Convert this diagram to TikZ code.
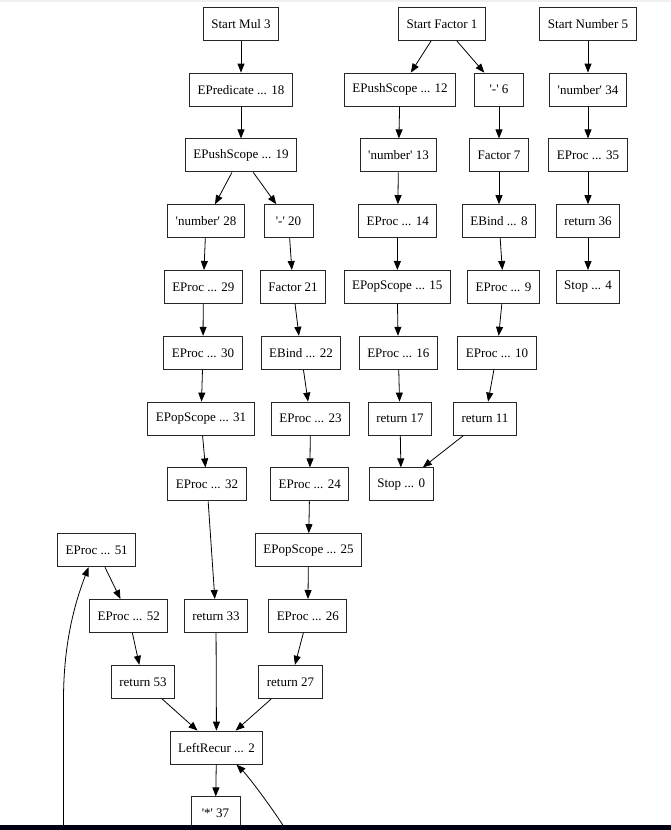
\documentclass[tikz,border=0pt]{standalone}
\usepackage{fontspec}
\setmainfont{Liberation Serif}
\usetikzlibrary{arrows.meta}
\newcommand{\sq}{\textquotesingle}
\begin{document}
\begin{tikzpicture}[x=1pt,y=-1pt,
  box/.style={draw=black!85, line width=1pt, minimum height=33pt, minimum width=49pt,
    inner xsep=8pt, inner ysep=0pt, font=\fontsize{13}{15}\selectfont, anchor=center},
  edge/.style={draw=black, line width=0.8pt, -{Triangle[length=9pt,width=7pt]}}]
\useasboundingbox (0,0) rectangle (671,830);
\fill[white] (0,0) rectangle (671,830);
\fill[black!6] (0,0) rectangle (671,1.5);
\def\rA{23.8}\def\rB{89.6}\def\rC{155.4}\def\rD{221.2}\def\rE{287}\def\rF{352.8}
\def\rG{418.6}\def\rH{484.4}\def\rI{550.2}\def\rJ{616}\def\rK{681.8}\def\rL{747.6}\def\rM{813.4}
% left group
\node[box] (sm3)  at (241,\rA) {Start Mul 3};
\node[box] (ep18) at (241,\rB) {EPredicate ... 18};
\node[box] (ps19) at (241,\rC) {EPushScope ... 19};
\node[box] (n28)  at (206,\rD) {\sq number\sq{} 28};
\node[box] (m20)  at (288.5,\rD) {\sq-\sq{} 20};
\node[box] (p29)  at (203.3,\rE) {EProc ... 29};
\node[box] (f21)  at (293,\rE) {Factor 21};
\node[box] (p30)  at (203,\rF) {EProc ... 30};
\node[box] (b22)  at (301,\rF) {EBind ... 22};
\node[box] (pop31) at (201,\rG) {EPopScope ... 31};
\node[box] (p23)  at (310.5,\rG) {EProc ... 23};
\node[box] (p32)  at (207,\rH) {EProc ... 32};
\node[box] (p24)  at (309.7,\rH) {EProc ... 24};
\node[box] (pop25) at (308.5,\rI) {EPopScope ... 25};
\node[box] (p51)  at (96.7,\rI) {EProc ... 51};
\node[box] (p52)  at (128.7,\rJ) {EProc ... 52};
\node[box] (r33)  at (216,\rJ) {return 33};
\node[box] (p26)  at (307.8,\rJ) {EProc ... 26};
\node[box] (r53)  at (143,\rK) {return 53};
\node[box] (r27)  at (290.5,\rK) {return 27};
\node[box] (lr2)  at (216.5,\rL) {LeftRecur ... 2};
\node[box] (s37)  at (215.5,\rM) {\sq*\sq{} 37};
% middle group
\node[box] (sf1)  at (442,\rA) {Start Factor 1};
\node[box] (ps12) at (400,\rB) {EPushScope ... 12};
\node[box] (m6)   at (499,\rB) {\sq-\sq{} 6};
\node[box] (n13)  at (398.5,\rC) {\sq number\sq{} 13};
\node[box] (f7)   at (499,\rC) {Factor 7};
\node[box] (p14)  at (397.7,\rD) {EProc ... 14};
\node[box] (b8)   at (499,\rD) {EBind ... 8};
\node[box] (pop15) at (397.2,\rE) {EPopScope ... 15};
\node[box] (p9)   at (503.5,\rE) {EProc ... 9};
\node[box] (p16)  at (398.3,\rF) {EProc ... 16};
\node[box] (p10)  at (497,\rF) {EProc ... 10};
\node[box] (r17)  at (400,\rG) {return 17};
\node[box] (r11)  at (485,\rG) {return 11};
\node[box] (st0)  at (401.2,\rH) {Stop ... 0};
% right group
\node[box] (sn5)  at (588,\rA) {Start Number 5};
\node[box] (n34)  at (588,\rB) {\sq number\sq{} 34};
\node[box] (p35)  at (588,\rC) {EProc ... 35};
\node[box] (r36)  at (588,\rD) {return 36};
\node[box] (st4)  at (588,\rE) {Stop ... 4};
% edges
\foreach \a/\b in {sm3/ep18, ep18/ps19, ps19/n28, ps19/m20, n28/p29, p29/p30, p30/pop31,
  pop31/p32, p32/r33, r33/lr2, m20/f21, f21/b22, b22/p23, p23/p24, p24/pop25, pop25/p26,
  p26/r27, r27/lr2, p51/p52, p52/r53, r53/lr2, lr2/s37,
  sf1/ps12, sf1/m6, ps12/n13, n13/p14, p14/pop15, pop15/p16, p16/r17, r17/st0,
  m6/f7, f7/b8, b8/p9, p9/p10, p10/r11, r11/st0,
  sn5/n34, n34/p35, p35/r36, r36/st4}
  \draw[edge] (\a) -- (\b);
% edges coming from below
\coordinate (c1) at (63.5,832);
\coordinate (k1) at (63.5,700);
\coordinate (c2) at (287,832);
\draw[edge] (c1) -- (k1) .. controls (63.5,640) and (76,600) .. ([xshift=-8.2pt]p51.south);
\draw[edge] (c2) .. controls (280,819) and (250,778) .. ([xshift=20pt]lr2.south);
% bottom bar
\fill[black!88!blue!60!black] (0,825) rectangle (671,830);
\end{tikzpicture}
\end{document}
